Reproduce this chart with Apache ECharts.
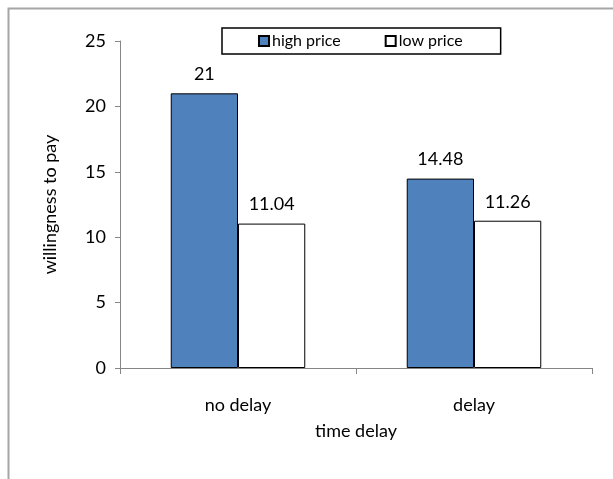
<!DOCTYPE html>
<html>
<head>
<meta charset="utf-8">
<script src="https://cdn.jsdelivr.net/npm/echarts@6/dist/echarts.min.js"></script>
<style>
  html, body { margin: 0; padding: 0; background: #fff; }
  #chart { width: 613px; height: 479px; }
</style>
</head>
<body>
<div id="chart"></div>
<script>
var categories = ['no delay', 'delay']
var highPrice = [21, 14.48]
var lowPrice = [11.04, 11.26]
var yTicks = [0, 5, 10, 15, 20, 25]

var font = 'Lato, "Open Sans", sans-serif'
var chart = echarts.init(document.getElementById('chart'))

chart.setOption({
  animation: false,
  backgroundColor: '#fff',
  textStyle: { fontFamily: font },
  graphic: [{
    // outer frame, only top and left edges show in the picture
    type: 'polyline',
    silent: true,
    shape: { points: [[8.5, 520], [8.5, 8.5], [640, 8.5]] },
    style: { stroke: '#a6a6a6', lineWidth: 2, fill: null }
  }],
  legend: {
    left: 222,
    top: 28,
    itemWidth: 10,
    itemHeight: 10,
    itemGap: 44,
    padding: [5, 38, 5, 36],
    borderColor: '#000',
    borderWidth: 1.5,
    icon: 'rect',
    textStyle: { fontSize: 16, color: '#000', fontFamily: font, padding: [0, 0, 0, -2] },
    data: ['high price', 'low price']
  },
  grid: {
    left: 120,
    top: 41,
    right: 21,
    bottom: 111
  },
  xAxis: {
    type: 'category',
    data: categories,
    name: 'time delay',
    nameLocation: 'middle',
    nameGap: 54,
    nameTextStyle: { fontSize: 18, color: '#000' },
    axisLine: { lineStyle: { color: '#868686' } },
    axisTick: { show: true, length: 6, lineStyle: { color: '#868686' } },
    axisLabel: { fontSize: 18, color: '#000', margin: 28 }
  },
  yAxis: {
    type: 'value',
    min: yTicks[0],
    max: yTicks[yTicks.length - 1],
    interval: 5,
    name: 'willingness to pay',
    nameLocation: 'middle',
    nameGap: 61,
    nameTextStyle: { fontSize: 18, color: '#000' },
    splitLine: { show: false },
    axisLine: { show: true, lineStyle: { color: '#868686' } },
    axisTick: { show: true, length: 5, lineStyle: { color: '#868686' } },
    axisLabel: { fontSize: 18, color: '#000', margin: 14 }
  },
  series: [{
    name: 'high price',
    type: 'bar',
    barGap: '0%',
    barCategoryGap: '43%',
    itemStyle: { color: '#4f81bd', borderColor: '#000', borderWidth: 1 },
    label: { show: true, position: 'top', distance: 10, fontSize: 18, color: '#000' },
    data: highPrice
  }, {
    name: 'low price',
    type: 'bar',
    itemStyle: { color: '#fff', borderColor: '#000', borderWidth: 1 },
    label: { show: true, position: 'top', distance: 10, fontSize: 18, color: '#000' },
    data: lowPrice
  }]
})
</script>
</body>
</html>
